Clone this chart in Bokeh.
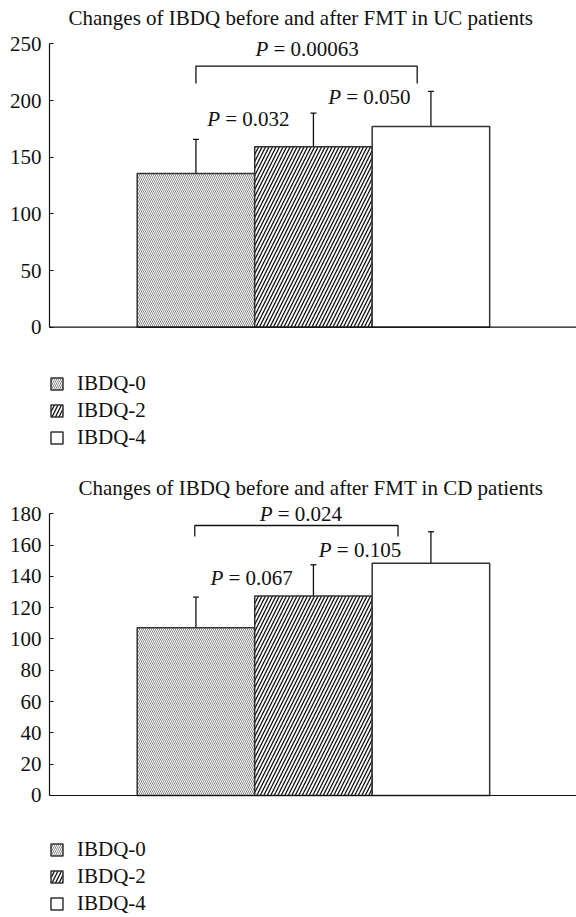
import numpy as np
from bokeh.plotting import figure
from bokeh.models import (ColumnDataSource, FixedTicker, Legend, LegendItem,
                          Whisker, TeeHead, Title, Range1d, Span)
from bokeh.layouts import column
from bokeh.embed import file_html
from bokeh.resources import INLINE
from bokeh.core.properties import value

# ---------------- data ----------------
groups = ["IBDQ-0", "IBDQ-2", "IBDQ-4"]

uc_mean = [135.6, 159.2, 177.1]
uc_sd = [30.1, 29.7, 30.9]
uc_ticks = [0, 50, 100, 150, 200, 250]
uc_p = ["0.032", "0.050", "0.00063"]

cd_mean = [107.2, 127.4, 148.4]
cd_sd = [19.5, 20.0, 20.1]
cd_ticks = [0, 20, 40, 60, 80, 100, 120, 140, 160, 180]
cd_p = ["0.067", "0.105", "0.024"]

# ---------------- styles ----------------
FONT = "Liberation Serif"
FS = "21px"
INK = "#111111"
hatch_patterns = ["\\", "/", " "]
hatch_colors = ["#8a8a8a", "#111111", "#ffffff"]
hatch_scales = [4, 7, 6]
hatch_weights = [1.0, 1.3, 1.0]


def make_chart(title, means, sds, ticks, p_texts, p_pos, bracket,
               title_offset, height, border_top, y_range, legend_y):
    x = np.arange(1, len(means) + 1)
    src = ColumnDataSource(dict(
        x=x, top=means, upper=np.array(means) + np.array(sds),
        hp=hatch_patterns, hc=hatch_colors, hs=hatch_scales, hw=hatch_weights,
    ))
    p = figure(width=576, height=height, output_backend="svg",
               toolbar_location=None, x_axis_location=None,
               x_range=Range1d(-0.2464, 4.239),
               y_range=Range1d(*y_range),
               min_border_left=49, min_border_right=0,
               min_border_top=border_top, min_border_bottom=0)
    p.title = Title(text=title, text_font=FONT, text_font_size=FS,
                    text_font_style="normal", align="left",
                    offset=title_offset, standoff=5, text_color=INK)
    p.outline_line_color = None
    p.xgrid.visible = False
    p.ygrid.visible = False
    p.background_fill_color = "white"

    r = p.vbar(x="x", top="top", width=1.0, bottom=0, source=src,
               fill_color="white", line_color="#333333", line_width=1.5,
               hatch_pattern="hp", hatch_color="hc", hatch_scale="hs",
               hatch_weight="hw")

    w = Whisker(base="x", upper="upper", lower="top", source=src,
                dimension="height", line_color=INK, line_width=1.3,
                upper_head=TeeHead(size=6, line_width=1.3, line_color=INK),
                lower_head=None)
    p.add_layout(w)

    # x axis line at zero
    p.add_layout(Span(location=0, dimension="width", line_color=INK,
                      line_width=1.2))

    # bracket
    bx0, bx1, btop, bleg = bracket
    p.line(x=[bx0, bx0, bx1, bx1], y=[bleg, btop, btop, bleg],
           line_color=INK, line_width=1.3)

    # p-value labels
    px = [pp[0] for pp in p_pos]
    py = [pp[1] for pp in p_pos]
    p.text(x=px, y=py, text=["P"] * len(px), text_font=value(FONT),
           text_font_style="italic", text_font_size=FS, y_offset=-6,
           text_baseline="alphabetic", text_align="left", text_color=INK)
    p.text(x=px, y=py, text=["= " + t for t in p_texts], text_font=value(FONT),
           text_font_size=FS, x_offset=18, y_offset=-6,
           text_baseline="alphabetic", text_align="left", text_color=INK)

    # y axis
    p.yaxis.ticker = FixedTicker(ticks=ticks)
    p.yaxis.bounds = (ticks[0], ticks[-1])
    p.yaxis.major_tick_in = 4
    p.yaxis.major_tick_out = 0
    p.yaxis.minor_tick_line_color = None
    p.yaxis.axis_line_color = INK
    p.yaxis.axis_line_width = 1.2
    p.yaxis.major_tick_line_color = INK
    p.yaxis.major_label_text_font = FONT
    p.yaxis.major_label_text_font_size = FS
    p.yaxis.major_label_text_color = INK
    p.yaxis.major_label_standoff = 8

    legend = Legend(
        items=[LegendItem(label=g, renderers=[r], index=i)
               for i, g in enumerate(groups)],
        location=(0, legend_y), orientation="vertical",
        glyph_width=15, glyph_height=15, label_height=15, spacing=2,
        padding=0, margin=0, border_line_color=None,
        background_fill_alpha=0, label_text_font=FONT,
        label_text_font_size=FS, label_standoff=13,
        label_text_baseline="alphabetic",
        label_text_color=INK)
    p.add_layout(legend, "center")
    return p


uc_pos = [(1.096, 178.0), (2.126, 197.7), (1.507, 239.8)]
cd_pos = [(1.124, 135.3), (2.046, 152.7), (1.543, 176.2)]

p1 = make_chart("Changes of IBDQ before and after FMT in UC patients",
                uc_mean, uc_sd, uc_ticks, uc_p, uc_pos,
                (1.0, 2.883, 230.4, 215.0), 19, 470, 32,
                (-126.4, 260.0), 20)
p2 = make_chart("Changes of IBDQ before and after FMT in CD patients",
                cd_mean, cd_sd, cd_ticks, cd_p, cd_pos,
                (0.99, 2.72, 172.5, 165.5), 29, 447, 32,
                (-77.96, 187.2), 1)

layout = column(p1, p2)
open("out.html", "w").write(file_html(layout, INLINE))
